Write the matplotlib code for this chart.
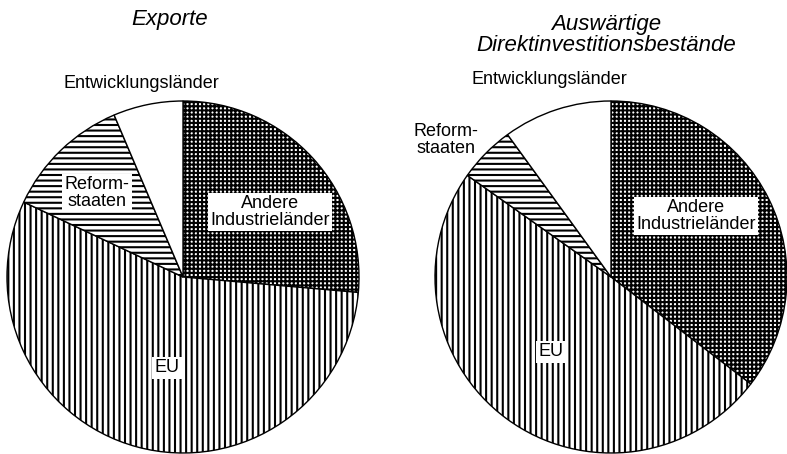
import matplotlib
matplotlib.use("Agg")
import matplotlib.pyplot as plt

plt.rcParams['font.family'] = ['Liberation Sans', 'DejaVu Sans']
plt.rcParams['hatch.linewidth'] = 1.5

# Anteile in Prozent (aus der Grafik geschätzt)
kategorien = ["Andere Industrieländer", "EU", "Reformstaaten", "Entwicklungsländer"]
exporte = [26.4, 55.6, 11.6, 6.4]
direktinvest = [35.4, 49.4, 5.2, 10.0]
titel = ["Exporte", "Auswärtige\nDirektinvestitionsbestände"]

muster = ['++++', '|||', '---', '']

W, H = 787, 454
fig = plt.figure(figsize=(W / 100, H / 100), dpi=100)
ax = fig.add_axes([0, 0, 1, 1])


def kuchen(werte, mitte):
    wedges, _ = ax.pie(werte, center=mitte, radius=176, startangle=90,
                       counterclock=False, colors=['white'] * 4,
                       wedgeprops=dict(edgecolor='black', linewidth=1.0))
    for w, h in zip(wedges, muster):
        w.set_hatch(h)


kuchen(exporte, (183, H - 277))
kuchen(direktinvest, (611, H - 277))

box = dict(facecolor='white', edgecolor='none', pad=1.5)
fs = 13

def txt(x, y, s, bbox=True, **kw):
    ax.text(x, H - y, s, ha='center', va='center', fontsize=fs,
            multialignment='center', linespacing=1.05,
            bbox=box if bbox else None, **kw)

# linke Grafik
txt(141, 83, "Entwicklungsländer", bbox=False)
txt(97, 193, "Reform-\nstaaten")
txt(270, 212, "Andere\nIndustrieländer")
txt(167, 368, "EU")

# rechte Grafik
txt(549, 80, "Entwicklungsländer", bbox=False)
txt(446, 140, "Reform-\nstaaten", bbox=False)
txt(696, 216, "Andere\nIndustrieländer")
txt(551, 352, "EU")

ax.text(170, H - 19, titel[0], ha='center', va='center', fontsize=16, style='italic')
ax.text(606, H - 35, titel[1], ha='center', va='center', fontsize=16,
        style='italic', linespacing=1.05)

ax.set_xlim(0, W)
ax.set_ylim(0, H)
ax.set_aspect('equal')
ax.set_axis_off()

fig.savefig("out.png", dpi=100)
